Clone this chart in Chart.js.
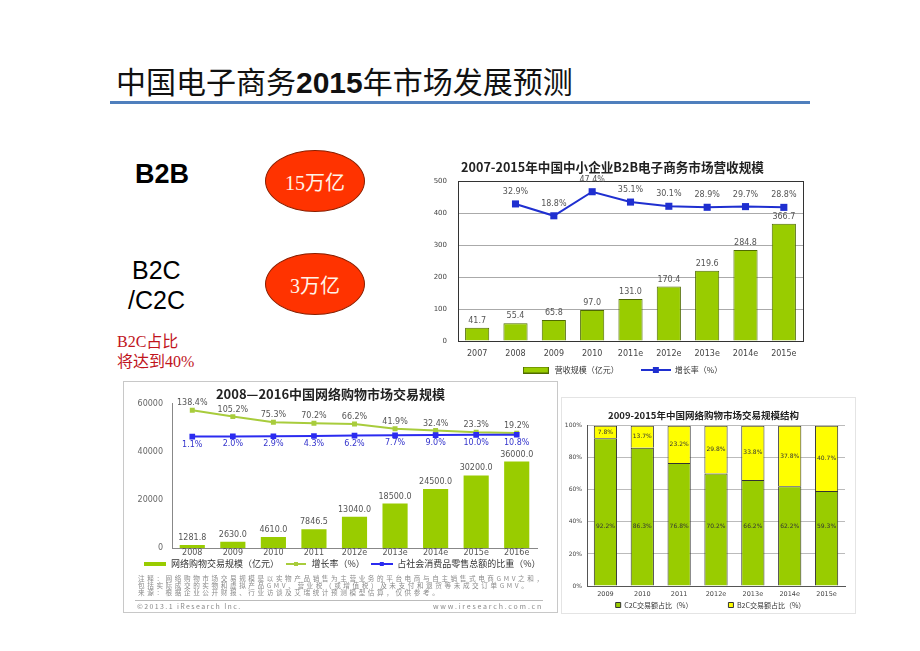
<!DOCTYPE html>
<html><head><meta charset="utf-8">
<script src="https://cdn.jsdelivr.net/npm/chart.js@4.4.0/dist/chart.umd.min.js"></script>
<style>
html,body{margin:0;padding:0;background:#fff;}
body{width:920px;height:651px;position:relative;overflow:hidden;font-family:"Liberation Sans","Noto Sans CJK SC",sans-serif;}
.abs{position:absolute;white-space:nowrap;}
#title{left:116px;top:62px;font-size:30px;line-height:36px;font-family:"Noto Sans CJK SC",sans-serif;color:#111;}
#title b{font-family:"Liberation Sans",sans-serif;font-weight:bold;}
#rule{left:110px;top:101px;width:700px;height:3px;background:#4f7fbd;}
#b2b{left:135px;top:158px;font-size:27px;font-weight:bold;line-height:32px;color:#000;}
#b2c{left:132px;top:255px;font-size:25px;line-height:30px;color:#000;}
#c2c{left:128px;top:285px;font-size:25px;line-height:30px;color:#000;}
.ell{position:absolute;width:98px;height:60px;border-radius:50%;background:#ff3300;border:1px solid #8a1f00;color:#fff3e8;display:flex;align-items:center;justify-content:center;font-family:"Liberation Serif","Noto Sans CJK SC",serif;font-size:20px;}
#e1{left:265px;top:150px;}
#e2{left:265px;top:253px;}
#note1{left:117px;top:332px;font-size:16px;line-height:20px;color:#c0141c;font-family:"Liberation Serif","Noto Sans CJK SC",serif;}
#box2{left:123px;top:381px;width:433px;height:230px;border:1px solid #c8c8c8;}
#box3{left:561px;top:397px;width:293px;height:215px;border:1px solid #e4e4e4;}
canvas{position:absolute;}
#c1{left:422px;top:150px;}
#c2{left:124px;top:381px;}
#c3{left:562px;top:398px;}
.fn{position:absolute;left:138px;font-size:6.6px;line-height:7px;color:#8a8a8a;letter-spacing:2.6px;white-space:nowrap;font-family:"Noto Sans CJK SC",sans-serif;}
#sep{left:135px;top:600px;width:408px;height:1px;background:#bbb;}
</style></head>
<body>
<div id="title" class="abs">中国电子商务<b>2015</b>年市场发展预测</div>
<div id="rule" class="abs"></div>
<div id="b2b" class="abs">B2B</div>
<div id="b2c" class="abs">B2C</div>
<div id="c2c" class="abs">/C2C</div>
<div id="e1" class="ell">15万亿</div>
<div id="e2" class="ell">3万亿</div>
<div id="note1" class="abs">B2C占比<br>将达到40%</div>
<div id="box2" class="abs"></div>
<div id="box3" class="abs"></div>
<canvas id="c1" width="395" height="232"></canvas>
<canvas id="c2" width="432" height="191"></canvas>
<canvas id="c3" width="292" height="214"></canvas>
<div class="fn" style="top:575px;">注释：网络购物市场交易规模是以实物产品销售为主营业务的平台电商与自主销售式电商GMV之和，</div>
<div class="fn" style="top:582px;">包括实际成交的实物和虚拟产品GMV、营业税（或增值税）及未支付和退货等未成交订单GMV。</div>
<div class="fn" style="top:589px;">来源：根据企业公开财报、行业访谈及艾瑞统计预测模型估算，仅供参考。</div>
<div id="sep" class="abs"></div>
<div class="fn" style="top:603px;left:137px;font-size:7px;letter-spacing:1.4px;">©2013.1 iResearch Inc.</div>
<div class="fn" style="top:603px;left:auto;right:377px;font-size:7px;letter-spacing:1.8px;">www.iresearch.com.cn</div>
<script>
// ---------- data ----------
const b2bYears = ['2007','2008','2009','2010','2011e','2012e','2013e','2014e','2015e'];
const b2bRevenue = [41.7,55.4,65.8,97.0,131.0,170.4,219.6,284.8,366.7];
const b2bGrowth = [null,32.9,18.8,47.4,35.1,30.1,28.9,29.7,28.8];
const b2bTicks = [0,100,200,300,400,500];

const shopYears = ['2008','2009','2010','2011','2012e','2013e','2014e','2015e','2016e'];
const shopGMV = [1281.8,2630.0,4610.0,7846.5,13040.0,18500.0,24500.0,30200.0,36000.0];
const shopGrowth = [138.4,105.2,75.3,70.2,66.2,41.9,32.4,23.3,19.2];
const shopShare = [1.1,2.0,2.9,4.3,6.2,7.7,9.0,10.0,10.8];
const shopTicks = [0,20000,40000,60000];

const structYears = ['2009','2010','2011','2012e','2013e','2014e','2015e'];
const c2cShare = [92.2,86.3,76.8,70.2,66.2,62.2,59.3];
const b2cShare = [7.8,13.7,23.2,29.8,33.8,37.8,40.7];
const structTicks = [0,20,40,60,80,100];

// ---------- helpers ----------
Chart.defaults.font.family = "'DejaVu Sans','Noto Sans CJK SC',sans-serif";
Chart.defaults.color = '#555';
Chart.defaults.animation = false;
const CJK = "'Noto Sans CJK SC','DejaVu Sans',sans-serif";

function icon(w,h,draw){const c=document.createElement('canvas');c.width=w;c.height=h;draw(c.getContext('2d'),w,h);return c;}
function lineIcon(w,h,color,lw,sq){return icon(w,h,(g)=>{g.strokeStyle=color;g.lineWidth=lw;g.beginPath();g.moveTo(0,h/2);g.lineTo(w,h/2);g.stroke();if(sq){g.fillStyle=color;g.fillRect(w/2-sq/2,h/2-sq/2,sq,sq);}});}

// keeps the legend's layout height small while its items keep wide horizontal gaps
function legendPlace(layoutH, centerY, itemH, dx){
  return {id:'legendPlace',
    beforeLayout(chart){const lg=chart.legend;if(lg&&!lg.__p){const f=lg.fit;lg.fit=function(){f.call(this);this.height=layoutH;};lg.__p=true;}},
    afterLayout(chart){const lg=chart.legend;if(!lg)return;const p=lg.options.labels.padding;
      lg.top=centerY-p-itemH/2;lg.bottom=lg.top+2*p+itemH;lg.height=lg.bottom-lg.top;
      lg.left+=dx;lg.right+=dx;}
  };
}
function legendLabels(icons){
  return function(chart){
    const items=Chart.defaults.plugins.legend.labels.generateLabels(chart);
    items.sort((a,b)=>a.datasetIndex-b.datasetIndex);
    if(icons) items.forEach(it=>{it.pointStyle=icons[it.datasetIndex];});
    return items;
  };
}
function frame(color){
  return {id:'frame',beforeDatasetsDraw(chart){const a=chart.chartArea,g=chart.ctx;g.save();g.strokeStyle=color;g.lineWidth=1;g.strokeRect(Math.round(a.left)+0.5,Math.round(a.top)+0.5,Math.round(a.right-a.left),Math.round(a.bottom-a.top));g.restore();}};
}

// ---------- chart 1: B2B ----------
new Chart(document.getElementById('c1'),{
  data:{labels:b2bYears,datasets:[
    {type:'bar',label:'营收规模（亿元）',data:b2bRevenue,backgroundColor:'#99cc00',borderColor:'#4f6b00',borderWidth:1,barPercentage:0.63,categoryPercentage:1,yAxisID:'y',order:2},
    {type:'line',label:'增长率（%）',data:b2bGrowth,borderColor:'#1f2fd0',backgroundColor:'#1f2fd0',borderWidth:2,pointStyle:'rect',pointRadius:5,pointBorderWidth:0,yAxisID:'y2',order:1}
  ]},
  options:{responsive:false,devicePixelRatio:1,
    layout:{padding:{left:0,right:14,top:0,bottom:0}},
    plugins:{
      title:{display:true,text:'2007-2015年中国中小企业B2B电子商务市场营收规模',color:'#222',font:{family:CJK,size:12.6,weight:'bold'},padding:{top:10,bottom:6}},
      legend:{position:'bottom',labels:{usePointStyle:true,pointStyleWidth:30,boxHeight:8,padding:22,color:'#333',font:{family:CJK,size:8},
        generateLabels:legendLabels([
          icon(26,7,(g)=>{g.fillStyle='#99cc00';g.fillRect(0,0,26,7);g.strokeStyle='#4f6b00';g.strokeRect(0.5,0.5,25,6);}),
          lineIcon(30,8,'#1f2fd0',2,6)])}},
      tooltip:{enabled:false}
    },
    scales:{
      x:{grid:{display:false,drawTicks:false},border:{color:'#333'},ticks:{padding:8,font:{size:8},color:'#444'},afterFit:s=>{s.height=21;}},
      y:{min:0,max:500,afterBuildTicks:s=>{s.ticks=b2bTicks.map(v=>({value:v}));},grid:{color:'#aaa',drawTicks:false},border:{color:'#333'},ticks:{padding:11,font:{size:7},color:'#444'},afterFit:s=>{s.width=36;}},
      y2:{display:false,min:-130,max:60}
    }
  },
  plugins:[legendPlace(20,220,8,9),frame('#333'),{id:'lbl1',afterDatasetsDraw(chart){
    const g=chart.ctx;g.save();g.font="8px 'DejaVu Sans'";g.textAlign='center';g.textBaseline='middle';g.fillStyle='#555';
    chart.getDatasetMeta(0).data.forEach((el,i)=>{g.fillText(b2bRevenue[i].toFixed(1),el.x,el.y-7);});
    chart.getDatasetMeta(1).data.forEach((el,i)=>{if(b2bGrowth[i]==null)return;g.fillText(b2bGrowth[i].toFixed(1)+'%',el.x,el.y-12);});
    g.restore();}}]
});

// ---------- chart 2: online shopping ----------
new Chart(document.getElementById('c2'),{
  data:{labels:shopYears,datasets:[
    {type:'bar',label:'网络购物交易规模（亿元）',data:shopGMV,backgroundColor:'#99cc00',barPercentage:0.62,categoryPercentage:1,yAxisID:'y',order:2},
    {type:'line',label:'增长率（%）',data:shopGrowth,borderColor:'#a8cc3c',backgroundColor:'#a8cc3c',borderWidth:2,pointStyle:'rect',pointRadius:3.5,pointBorderWidth:0,yAxisID:'y2',order:1},
    {type:'line',label:'占社会消费品零售总额的比重（%）',data:shopShare,borderColor:'#2b2bf0',backgroundColor:'#2b2bf0',borderWidth:2,pointStyle:'rect',pointRadius:4,pointBorderWidth:0,yAxisID:'y2',order:0}
  ]},
  options:{responsive:false,devicePixelRatio:1,
    layout:{padding:{left:0,right:19,top:0,bottom:0}},
    plugins:{
      title:{display:true,text:'2008—2016中国网络购物市场交易规模',color:'#222',font:{family:CJK,size:13,weight:'bold'},padding:{top:5.4,bottom:1.8}},
      legend:{position:'bottom',labels:{usePointStyle:true,pointStyleWidth:22,boxHeight:9,padding:6,color:'#333',font:{family:CJK,size:9},
        generateLabels:legendLabels([lineIcon(22,4,'#99cc00',4,0),lineIcon(20,6,'#a8cc3c',2,4),lineIcon(22,6,'#2b2bf0',2,4)])}},
      tooltip:{enabled:false}
    },
    scales:{
      x:{grid:{display:false,drawTicks:false},border:{color:'#888'},ticks:{padding:0,font:{size:8},color:'#555'},afterFit:s=>{s.height=9;}},
      y:{min:0,max:60000,afterBuildTicks:s=>{s.ticks=shopTicks.map(v=>({value:v}));},grid:{display:false,drawTicks:false},border:{color:'#888'},ticks:{padding:9,font:{size:8},color:'#666',callback:v=>String(v)},afterFit:s=>{s.width=48;}},
      y2:{display:false,min:-580,max:172}
    }
  },
  plugins:[legendPlace(15,183,9,12),{id:'lbl2',afterDatasetsDraw(chart){
    const g=chart.ctx;g.save();g.font="8px 'DejaVu Sans'";g.textAlign='center';g.textBaseline='middle';
    g.fillStyle='#555';
    chart.getDatasetMeta(0).data.forEach((el,i)=>{g.fillText(shopGMV[i].toFixed(1),el.x,el.y-7);});
    chart.getDatasetMeta(1).data.forEach((el,i)=>{g.fillText(shopGrowth[i].toFixed(1)+'%',el.x,el.y-7);});
    g.fillStyle='#3333cc';
    chart.getDatasetMeta(2).data.forEach((el,i)=>{g.fillText(shopShare[i].toFixed(1)+'%',el.x,el.y+8);});
    g.restore();}}]
});

// ---------- chart 3: structure ----------
new Chart(document.getElementById('c3'),{
  type:'bar',
  data:{labels:structYears,datasets:[
    {label:'C2C交易额占比（%）',data:c2cShare,backgroundColor:'#99cc00',borderColor:'#333',borderWidth:1,barPercentage:0.63,categoryPercentage:1},
    {label:'B2C交易额占比（%）',data:b2cShare,backgroundColor:'#ffff00',borderColor:'#333',borderWidth:1,barPercentage:0.63,categoryPercentage:1}
  ]},
  options:{responsive:false,devicePixelRatio:1,
    layout:{padding:{left:0,right:9,top:0,bottom:0}},
    plugins:{
      title:{display:true,text:'2009-2015年中国网络购物市场交易规模结构',color:'#222',font:{family:CJK,size:9.5,weight:'bold'},padding:{top:11.7,bottom:4.6}},
      legend:{position:'bottom',labels:{boxWidth:5,boxHeight:5,padding:36,color:'#333',font:{family:CJK,size:7},generateLabels:legendLabels(null)}},
      tooltip:{enabled:false}
    },
    scales:{
      x:{stacked:true,grid:{display:false,drawTicks:false},border:{color:'#555'},ticks:{padding:4,font:{size:6.5},color:'#444'},afterFit:s=>{s.height=12;}},
      y:{stacked:true,min:0,max:100,afterBuildTicks:s=>{s.ticks=structTicks.map(v=>({value:v}));},grid:{color:'#bbb',drawTicks:false},border:{color:'#555'},ticks:{padding:5,font:{size:6},color:'#444',callback:v=>v+'%'},afterFit:s=>{s.width=25;}}
    }
  },
  plugins:[legendPlace(14,207,7,7),{id:'lbl3',afterDatasetsDraw(chart){
    const g=chart.ctx;g.save();g.font="6px 'DejaVu Sans'";g.textAlign='center';g.textBaseline='middle';g.fillStyle='#333';
    const ys=chart.scales.y;
    chart.getDatasetMeta(0).data.forEach((el,i)=>{g.fillText(c2cShare[i].toFixed(1)+'%',el.x,ys.getPixelForValue(37));});
    chart.getDatasetMeta(1).data.forEach((el,i)=>{g.fillText(b2cShare[i].toFixed(1)+'%',el.x,(el.y+el.base)/2);});
    g.restore();}}]
});
</script>
</body></html>
